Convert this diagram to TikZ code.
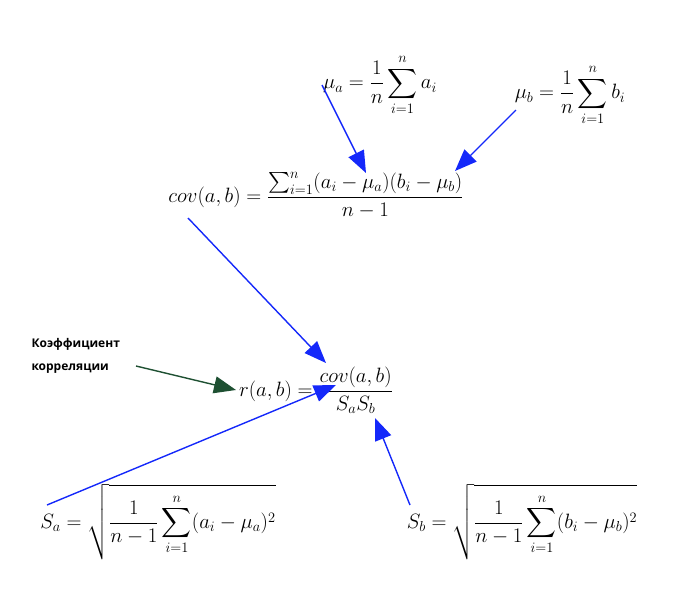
\documentclass[tikz,border=0pt]{standalone}
\usepackage{amsmath}
\usepackage{fontspec}
\newfontfamily\labfont{Open Sans}
\usetikzlibrary{arrows.meta}
\definecolor{ablue}{RGB}{20,40,250}
\definecolor{agreen}{RGB}{30,80,50}
\begin{document}
\begin{tikzpicture}[x=1pt,y=-1pt,
  f/.style={font=\fontsize{21}{25}\selectfont, inner sep=1pt},
  ar/.style={ablue, line width=1.4pt, -{Triangle[length=22pt,width=17pt]}},
  lab/.style={font=\labfont\bfseries\fontsize{12}{23}\selectfont, align=left, anchor=west}]
\useasboundingbox (0,0) rectangle (678,614);
\node[f] (mua) at (380,85) {$\displaystyle \mu_a=\frac{1}{n}\sum_{i=1}^{n}a_i$};
\node[f] (mub) at (570,95) {$\displaystyle \mu_b=\frac{1}{n}\sum_{i=1}^{n}b_i$};
\node[f] (cov) at (316,195) {$\displaystyle cov(a,b)=\frac{\sum_{i=1}^{n}(a_i-\mu_a)(b_i-\mu_b)}{n-1}$};
\node[f] (r) at (316,390) {$\displaystyle r(a,b)=\frac{cov(a,b)}{S_aS_b}$};
\node[lab] (k) at (28,356) {Коэффициент\\корреляции};
\node[f] (sa) at (158,522) {$\displaystyle S_a=\sqrt{\frac{1}{n-1}\sum_{i=1}^{n}(a_i-\mu_a)^2}$};
\node[f] (sb) at (522,522) {$\displaystyle S_b=\sqrt{\frac{1}{n-1}\sum_{i=1}^{n}(b_i-\mu_b)^2}$};
\coordinate (a1) at (322,85); \coordinate (h1) at (366,173);
\coordinate (a2) at (516,110); \coordinate (h2) at (455,171);
\coordinate (a3) at (188,218); \coordinate (h3) at (326,363);
\coordinate (a4) at (47,505); \coordinate (h4) at (336,385);
\coordinate (a5) at (410,505); \coordinate (h5) at (375,418);
\coordinate (a6) at (136,366); \coordinate (h6) at (236,390);
\draw[ar] (a1) -- (h1);
\draw[ar] (a2) -- (h2);
\draw[ar] (a3) -- (h3);
\draw[ar] (a4) -- (h4);
\draw[ar] (a5) -- (h5);
\draw[ar, agreen] (a6) -- (h6);
\end{tikzpicture}
\end{document}
